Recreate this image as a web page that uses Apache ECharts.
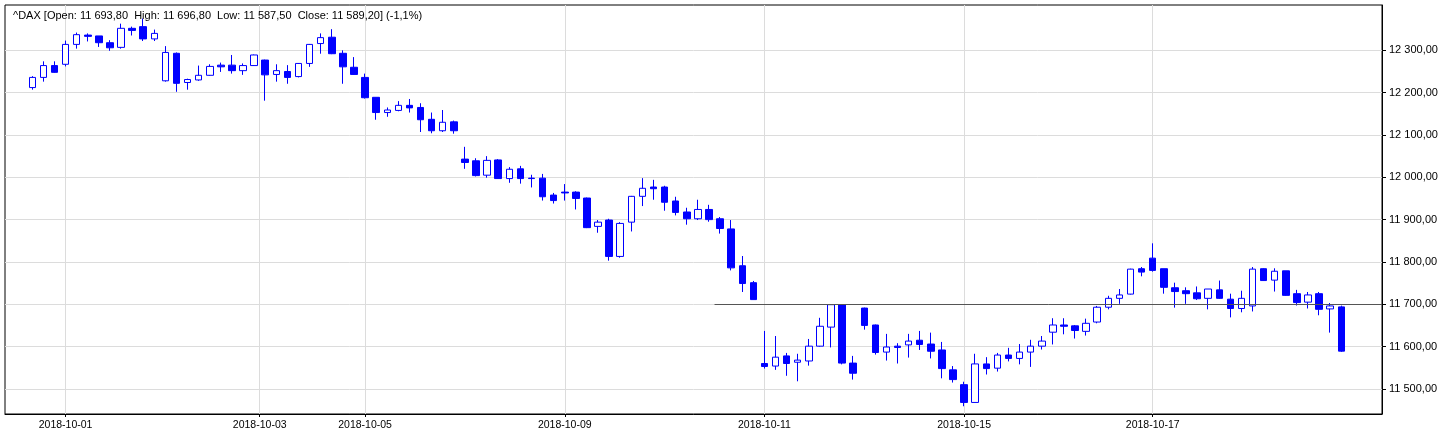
<!DOCTYPE html>
<html>
<head>
<meta charset="utf-8">
<script src="https://cdn.jsdelivr.net/npm/echarts@6/dist/echarts.min.js"></script>
<style>
html,body{margin:0;padding:0;background:#fff;}
#chart{width:1451px;height:432px;}
</style>
</head>
<body>
<div id="chart"></div>
<script>
// ---- DATA ----
const symbol = '^DAX';
const opens = [12212,12236,12264,12267,12314,12336,12334,12318,12307,12352,12356,12327,12228,12293,12224,12230,12241,12265,12265,12252,12264,
12277,12243,12250,12238,12269,12316,12331,12293,12260,12236,12189,12153,12158,12170,12165,12137,12110,12131,
12043,12039,12005,12041,11997,12020,11998,11998,11958,11965,11965,11951,11884,11899,11813,11894,11955,11977,11977,11944,
11918,11902,11924,11902,11878,11791,11751,11560,11554,11578,11563,11566,11601,11646,11699,11561,11691,11651,11587,11601,
11604,11615,11606,11592,11545,11510,11468,11559,11549,11580,11572,11587,11601,11634,11651,11649,11636,11658,11693,11714,
11724,11784,11809,11784,11739,11732,11727,11714,11734,11712,11690,11696,11784,11757,11779,11725,11705,11725,11689,11693.8];
const highs = [12239,12274,12274,12323,12342,12340,12334,12324,12363,12356,12375,12349,12310,12295,12233,12264,12267,12271,12289,12269,12290,
12278,12267,12265,12270,12315,12340,12350,12300,12284,12245,12189,12165,12180,12185,12175,12153,12159,12134,
12072,12045,12050,12043,12024,12027,12006,12008,11963,11984,11967,11952,11899,11902,11894,11956,11998,11994,11980,11954,
11928,11947,11935,11906,11899,11814,11755,11637,11625,11585,11583,11618,11668,11700,11700,11578,11692,11652,11630,11608,
11630,11637,11633,11611,11554,11517,11583,11575,11585,11597,11606,11616,11625,11667,11667,11651,11666,11696,11720,11736,
11784,11788,11844,11784,11751,11740,11742,11736,11756,11725,11732,11788,11785,11785,11779,11734,11729,11729,11703,11696.8];
const lows = [12207,12226,12247,12262,12304,12321,12308,12299,12304,12335,12322,12322,12226,12202,12207,12228,12240,12249,12245,12242,12263,
12181,12226,12221,12236,12261,12292,12291,12221,12242,12186,12136,12143,12156,12153,12107,12104,12107,12103,
12020,12002,11999,11997,11987,11985,11976,11945,11938,11945,11924,11880,11869,11803,11810,11872,11932,11947,11921,11910,
11888,11899,11895,11867,11780,11729,11711,11548,11545,11531,11518,11555,11600,11598,11558,11522,11640,11581,11567,11560,
11574,11592,11572,11525,11515,11459,11468,11534,11541,11565,11558,11552,11593,11605,11629,11619,11626,11655,11688,11701,
11723,11766,11777,11725,11692,11701,11710,11688,11713,11669,11681,11683,11755,11730,11720,11697,11690,11674,11633,11587.5];
const closes = [12236,12264,12248,12314,12337,12333,12318,12306,12352,12347,12327,12340,12295,12222,12231,12241,12262,12261,12252,12264,12289,
12242,12252,12236,12269,12314,12330,12292,12261,12243,12188,12153,12159,12170,12164,12136,12110,12130,12110,
12035,12004,12040,11997,12019,11997,11997,11954,11945,11963,11950,11881,11894,11813,11891,11955,11974,11973,11941,11917,
11902,11924,11900,11879,11786,11749,11711,11553,11575,11560,11568,11601,11648,11699,11561,11537,11650,11586,11599,11598,
11613,11605,11589,11548,11522,11468,11559,11548,11580,11572,11587,11601,11613,11651,11648,11638,11655,11693,11714,11722,
11783,11776,11780,11740,11730,11725,11713,11736,11714,11690,11714,11783,11756,11778,11721,11704,11722,11688,11696,11589.2];
// candle index where each labelled day starts, and the labels
const dateTickIndex = [3, 20.5, 30, 48, 66, 84, 101];
const dateTickLabels = ['2018-10-01','2018-10-03','2018-10-05','2018-10-09','2018-10-11','2018-10-15','2018-10-17'];
const priceTicks = [11500,11600,11700,11800,11900,12000,12100,12200,12300];
const levelValue = 11700;
const levelStartIndex = 61.5;
const prevSessionCloseIndex = 109;

// ---- helpers ----
function fmt(v){
  const parts = v.toFixed(2).split('.');
  const intPart = parts[0].replace(/\B(?=(\d{3})+(?!\d))/g, ' ');
  return intPart + ',' + parts[1];
}
const n = closes.length;
const data = opens.map((o,i)=>[i, o, closes[i], lows[i], highs[i]]);
const last = n-1;
const pct = (closes[last]-closes[prevSessionCloseIndex])/closes[prevSessionCloseIndex]*100;
const pctStr = (pct>=0?'+':'') + pct.toFixed(1).replace('.',',') + '%';
const titleText = symbol + ' [Open: ' + fmt(opens[last]) + '  High: ' + fmt(highs[last]) +
  '  Low: ' + fmt(lows[last]) + '  Close: ' + fmt(closes[last]) + '] (' + pctStr + ')';

const xMin = -2.46, xMax = 121.67;
const FONT = '"Liberation Sans", Arial, sans-serif';

const chart = echarts.init(document.getElementById('chart'), null, {renderer:'canvas'});
chart.setOption({
  animation:false,
  backgroundColor:'#ffffff',
  title:{
    text:titleText, left:8, top:5,
    textStyle:{fontSize:11, fontWeight:'normal', color:'#000', fontFamily:FONT}
  },
  grid:{left:5, right:69, top:5, bottom:18, show:true, borderColor:'#000', borderWidth:1, backgroundColor:'transparent', containLabel:false},
  xAxis:{
    type:'value', min:xMin, max:xMax,
    axisLine:{show:true, onZero:false, lineStyle:{color:'#000', width:1}},
    axisTick:{show:true, length:3, customValues:dateTickIndex, lineStyle:{color:'#000'}},
    axisLabel:{show:true, customValues:dateTickIndex, margin:6, fontSize:10.5, color:'#000', fontFamily:FONT,
      formatter:(v)=>{const k=dateTickIndex.indexOf(v); return k>=0?dateTickLabels[k]:'';}},
    splitLine:{show:true, lineStyle:{color:'#dcdcdc', width:1}}
  },
  yAxis:{
    type:'value', position:'right', min:11440.7, max:12407.1, scale:true,
    axisLine:{show:true, onZero:false, lineStyle:{color:'#000', width:1}},
    axisTick:{show:true, length:4, customValues:priceTicks, lineStyle:{color:'#000'}},
    axisLabel:{show:true, customValues:priceTicks, margin:7, fontSize:11, color:'#000', fontFamily:FONT,
      formatter:(v)=>fmt(v)},
    splitLine:{show:true, lineStyle:{color:'#dcdcdc', width:1}}
  },
  series:[{
    type:'candlestick',
    data:data,
    encode:{x:0, y:[1,2,3,4]},
    barWidth:7,
    itemStyle:{color:'#ffffff', color0:'#0000ff', borderColor:'#0000ff', borderColor0:'#0000ff', borderColorDoji:'#0000ff', borderWidth:1},
    markLine:{
      silent:true, symbol:['none','none'], animation:false,
      label:{show:false},
      lineStyle:{color:'#555', width:1, type:'solid'},
      data:[[{coord:[levelStartIndex, levelValue]},{coord:[xMax, levelValue]}]]
    }
  }]
});
</script>
</body>
</html>
